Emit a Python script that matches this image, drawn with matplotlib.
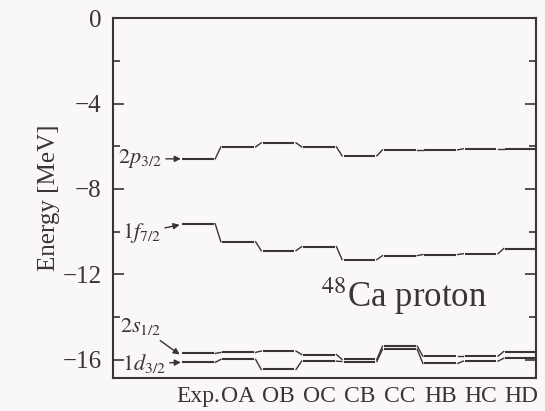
import matplotlib.pyplot as plt
from matplotlib.ticker import MultipleLocator

plt.rcParams['font.family'] = ['Liberation Serif', 'DejaVu Serif']
plt.rcParams['mathtext.fontset'] = 'stix'

# single-particle proton levels of 48Ca (MeV)
models = ['Exp.', 'OA', 'OB', 'OC', 'CB', 'CC', 'HB', 'HC', 'HD']
e_2p32 = [-6.59, -6.03, -5.84, -6.03, -6.45, -6.17, -6.17, -6.12, -6.12]
e_1f72 = [-9.63, -10.47, -10.89, -10.70, -11.31, -11.12, -11.07, -11.03, -10.79]
e_2s12 = [-15.70, -15.65, -15.59, -15.75, -15.98, -15.36, -15.83, -15.83, -15.61]
e_1d32 = [-16.12, -15.98, -16.45, -16.06, -16.08, -15.51, -16.17, -16.06, -15.93]

ink = '#3a3434'
half = 0.39

fig = plt.figure(figsize=(5.45, 4.11), dpi=100, facecolor='#f9f7f7')
ax = fig.add_axes([0.2073, 0.0803, 0.7762, 0.8757])
ax.set_facecolor('#f9f7f7')


def draw_level(ax, levels):
    for i, e in enumerate(levels):
        ax.plot([i - half, i + half], [e, e], color=ink, lw=1.5,
                solid_capstyle='butt')
        if i + 1 < len(levels):
            ax.plot([i + half + 0.04, i + 1 - half - 0.04], [e, levels[i + 1]],
                    color=ink, lw=1.0)


for lev in (e_2p32, e_1f72, e_2s12, e_1d32):
    draw_level(ax, lev)

ax.set_xlim(-2.10, 8.37)
ax.set_ylim(-16.85, 0)
ax.set_xticks(range(len(models)))
ax.set_xticklabels(models, fontsize=17)
ax.tick_params(axis='x', length=0, pad=6, colors=ink)
ax.yaxis.set_major_locator(MultipleLocator(4))
ax.yaxis.set_minor_locator(MultipleLocator(2))
ax.tick_params(axis='y', which='both', direction='in', left=True, right=True,
               colors=ink, labelsize=18, pad=8)
ax.tick_params(axis='y', which='major', length=8, width=1.2)
ax.tick_params(axis='y', which='minor', length=5, width=1.2)
for s in ax.spines.values():
    s.set_color(ink)
    s.set_linewidth(1.5)
ax.set_ylabel('Energy [MeV]', fontsize=18, color=ink, labelpad=2)

# level labels with arrows
arrow = dict(arrowstyle='-|>', color=ink, lw=1.0, mutation_scale=9,
             shrinkA=1, shrinkB=0)
ax.annotate(r'$2p_{3/2}$', xy=(-0.42, e_2p32[0]), xytext=(-1.98, e_2p32[0]),
            fontsize=16, color=ink, va='center', ha='left', arrowprops=arrow)
ax.annotate(r'$1f_{7/2}$', xy=(-0.45, e_1f72[0] - 0.05), xytext=(-1.88, -10.05),
            fontsize=16, color=ink, va='center', ha='left', arrowprops=arrow)
ax.annotate(r'$2s_{1/2}$', xy=(-0.45, e_2s12[0] - 0.05), xytext=(-1.93, -14.44),
            fontsize=16, color=ink, va='center', ha='left', arrowprops=arrow)
ax.annotate(r'$1d_{3/2}$', xy=(-0.42, e_1d32[0]), xytext=(-1.88, -16.17),
            fontsize=16, color=ink, va='center', ha='left', arrowprops=arrow)

ax.text(5.1, -13.0, r'$^{48}$Ca proton', fontsize=25, color=ink,
        ha='center', va='center')

fig.savefig('out.png', dpi=100, facecolor=fig.get_facecolor())
